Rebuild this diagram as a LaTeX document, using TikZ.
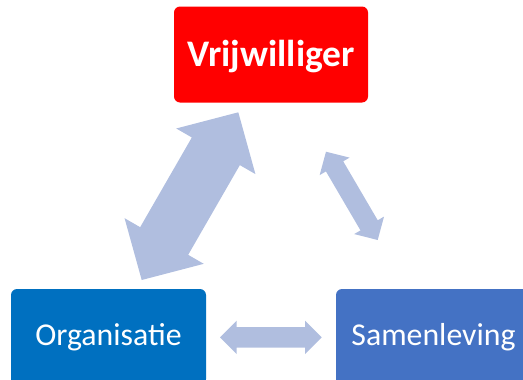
\documentclass[tikz,border=0pt]{standalone}
\usepackage{fontspec}
\setmainfont{Carlito}
\usetikzlibrary{calc}
\definecolor{vwred}{HTML}{FF0000}
\definecolor{orgblue}{HTML}{0070C0}
\definecolor{samblue}{HTML}{4472C4}
\definecolor{arrowblue}{HTML}{B0BEDF}
\newcommand\blockdarrow[5]{%
  \fill[arrowblue] (#1)
  -- ($(#1)!#3!(#2)!#4!90:(#2)$)
  -- ($(#1)!#3!(#2)!#5!90:(#2)$)
  -- ($(#2)!#3!(#1)!#5!-90:(#1)$)
  -- ($(#2)!#3!(#1)!#4!-90:(#1)$)
  -- (#2)
  -- ($(#2)!#3!(#1)!#4!90:(#1)$)
  -- ($(#2)!#3!(#1)!#5!90:(#1)$)
  -- ($(#1)!#3!(#2)!#5!-90:(#2)$)
  -- ($(#1)!#3!(#2)!#4!-90:(#2)$)
  -- cycle;}
\begin{document}
\begin{tikzpicture}[x=1pt,y=-1pt,
  box/.style={rectangle, rounded corners=6pt, minimum width=194pt, minimum height=96pt,
    inner sep=0pt, text=white, align=center},
  bigtext/.style={font=\fontsize{37.5}{42}\selectfont\bfseries, text height=23.5pt, text depth=0pt},
  smalltext/.style={font=\fontsize{31.8}{36}\selectfont, text height=20pt, text depth=4pt}]
\useasboundingbox (0,0) rectangle (523,380);
\clip (0,0) rectangle (523,380);
\node[box, bigtext, fill=vwred] (vw) at (271,54.5) {Vrijwilliger};
\node[box, smalltext, fill=orgblue, minimum width=195pt] (org) at (108.5,337) {Organisatie};
\node[box, smalltext, fill=samblue, minimum width=195pt] (sam) at (433.5,337) {Samenleving};
\coordinate (a1) at (141.7,280);
\coordinate (b1) at (238.3,112.3);
\coordinate (a2) at (326,151.7);
\coordinate (b2) at (377.7,240);
\coordinate (a3) at (220,337.3);
\coordinate (b3) at (321.7,337.3);
\blockdarrow{a1}{b1}{45pt}{45.7pt}{27.7pt}
\blockdarrow{a2}{b2}{17pt}{17.3pt}{10pt}
\blockdarrow{a3}{b3}{16.7pt}{16.7pt}{10.3pt}
\end{tikzpicture}
\end{document}
